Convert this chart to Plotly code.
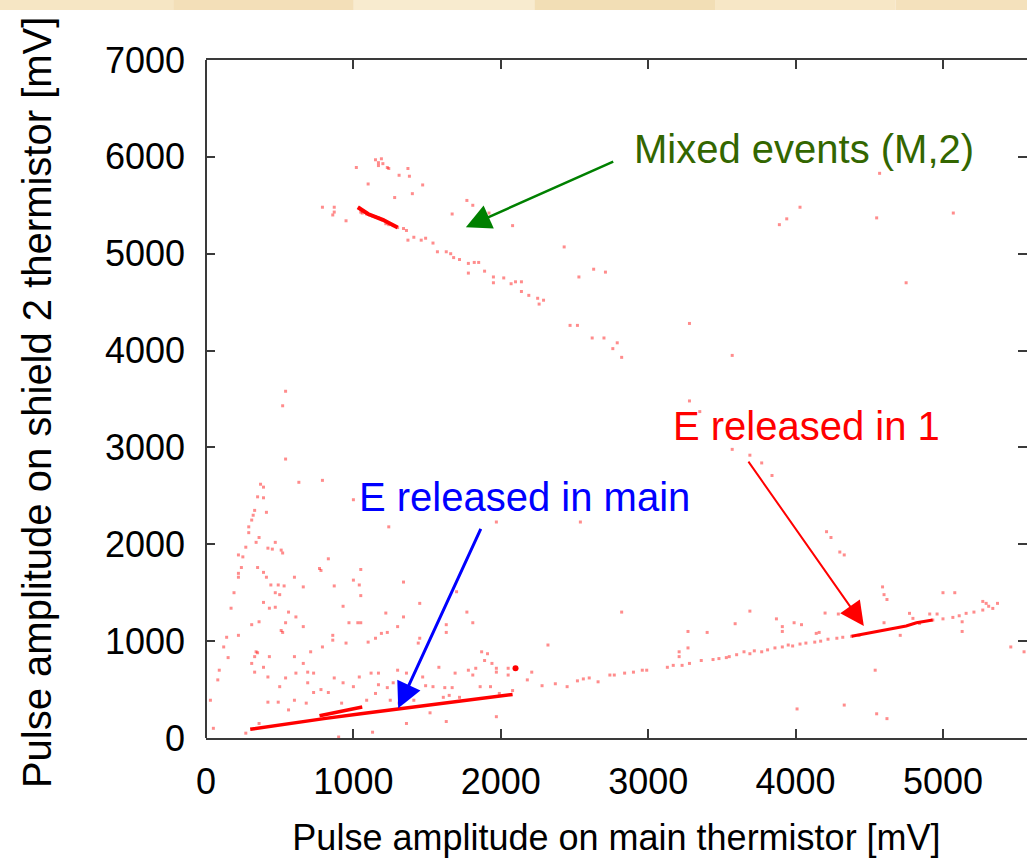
import plotly.graph_objects as go

# Tick values (mV)
x_ticks = [0, 1000, 2000, 3000, 4000, 5000]
y_ticks = [0, 1000, 2000, 3000, 4000, 5000, 6000, 7000]

# Low-energy events scattered above the main band
low_x = [370, 390, 630, 790, 350, 390, 330, 320, 310, 410, 290, 290, 340, 270, 360, 420, 450, 470, 510, 520,
         220, 250, 240, 220, 220, 350, 390, 410, 440, 490, 530, 470, 500, 600, 660, 770, 780, 830, 870, 1000,
         1050, 1040, 1050, 930, 390, 470, 430, 560, 610, 190, 170, 360, 310, 540, 520, 510, 660, 140, 120, 220,
         340, 350, 330, 310, 430, 600, 710, 860, 860, 790, 950, 1030, 1050, 970, 1100, 1150, 1190, 1230, 1220, 1340,
         1300, 1240, 1000, 1340, 150, 80, 30, 50, 90, 330, 390, 420, 500, 540, 610, 660, 690, 730, 690, 730,
         780, 830, 870, 930, 1000, 1040, 1120, 1170, 1170, 1150, 1230, 1300, 1360, 1270, 420, 490, 560, 600, 680, 360,
         270, 900, 920, 1090, 1250, 1310, 1410, 1440, 540, 1970, 2540, 1450, 1770, 1810, 2320, 2820, 1630, 1870, 1940, 2210,
         1970, 1130, 1360, 1630, 540, 520]
low_y = [2620, 2590, 2640, 2660, 2490, 2480, 2350, 2300, 2250, 2330, 2180, 2120, 2020, 1970, 2070, 1960, 1950, 2020, 1940, 1910,
         1890, 1870, 1760, 1700, 1660, 1760, 1710, 1660, 1580, 1580, 1570, 1500, 1480, 1660, 1560, 1750, 1730, 1850, 1570, 1630,
         1740, 1580, 1470, 1360, 1400, 1350, 1340, 1300, 1250, 1500, 1340, 1200, 1170, 1190, 1090, 1110, 1150, 1040, 940, 1060,
         890, 880, 840, 770, 840, 840, 890, 1060, 1010, 940, 980, 1190, 1190, 1190, 990, 1030, 1080, 1090, 1290, 1250,
         1150, 2180, 2460, 1610, 830, 600, 390, 100, 700, 680, 730, 630, 530, 620, 670, 770, 680, 670, 570, 470,
         500, 470, 620, 570, 530, 630, 670, 670, 550, 460, 520, 700, 670, 570, 370, 370, 290, 390, 360, 150,
         50, 10, 360, 390, 390, 360, 390, 980, 2880, 2230, 2230, 1390, 1300, 1190, 960, 1300, 1170, 890, 770, 680,
         220, 60, 150, 170, 3580, 3430]

# Events along the lower band (main thermistor + shield 1 crosstalk)
band_pts_x = [1700, 1630, 1450, 1910, 1890, 1970, 2050, 1780, 1830, 1970, 1580, 1690, 1810, 2050, 1470, 1490, 1540, 1620,
              1670, 1860, 1930, 1990, 2080, 2180, 2280, 2370, 2450, 2520, 2560, 2600, 2660, 2740, 2770, 2840, 2900, 2960,
              2990, 3130, 3170, 3230, 3280, 3210, 3270, 3270, 3210, 1520, 1610, 1650, 1720, 3400, 3590, 3690, 3870, 3910,
              3910, 3990, 4040, 4140, 4200, 4160, 4290, 4590, 4600, 4620, 5000, 5080, 5270, 5370, 4910, 4960, 5130, 5130,
              4710, 4600, 3360, 4540, 4330, 4010, 4550, 4620, 5460, 5550, 3440, 3480, 3530, 3550, 3600, 3650, 3690, 3720,
              3770, 3810, 3860, 3910, 3950, 3980, 4030, 4070, 4130, 4170, 4220, 4280, 4320, 4380, 4430, 4773, 4796, 4841,
              4931, 5000, 5067, 5110, 5157, 5210, 5270, 5293, 5338, 5310]
band_pts_y = [1510, 1090, 1030, 870, 800, 720, 720, 700, 720, 680, 730, 670, 650, 650, 630, 540, 530, 520,
              520, 530, 530, 460, 490, 600, 540, 560, 530, 590, 610, 620, 580, 650, 650, 670, 680, 700,
              700, 730, 750, 750, 770, 840, 930, 1100, 890, 260, 420, 440, 420, 1090, 1180, 1310, 1230, 1150,
              1100, 1190, 1170, 1080, 1290, 1090, 1280, 1560, 1480, 1430, 1500, 1500, 1410, 1390, 1280, 1280, 1200, 1100,
              1060, 1190, 800, 700, 340, 300, 250, 200, 940, 890, 810, 820, 830, 840, 860, 890, 870, 900,
              890, 910, 930, 940, 960, 950, 970, 980, 990, 1000, 1020, 1030, 1040, 1050, 1060, 1287, 1235, 1183,
              1218, 1230, 1245, 1262, 1287, 1300, 1321, 1390, 1338, 1360]

# Sparse events in the upper right part
upper_x = [4570, 4030, 3940, 3890, 4550, 5070, 4750, 3280, 3570, 3280, 3350, 3570, 3690, 3770, 3840, 4210, 4240, 4300, 4330]
upper_y = [5830, 5480, 5360, 5300, 5370, 5420, 4700, 4280, 3950, 3480, 3370, 2980, 2920, 2840, 2710, 2130, 2070, 1920, 1890]

# Mixed events (main + shield 2)
mixed_x = [1150, 1170, 1170, 1190, 1200, 1230, 1240, 1020, 1310, 1370, 1380, 1470, 1400, 1100, 1280, 1770, 1810, 1670,
           1920, 2080, 2430, 2530, 2630, 2710, 2470, 2520, 2620, 2700, 2790, 2760, 2820, 790, 870, 870, 860, 950,
           1040, 1050, 1060, 1090, 1110, 1130, 1150, 1170, 1200, 1220, 1240, 1270, 1300, 1340, 1360,
           1370, 1410, 1460, 1490, 1540, 1570, 1630, 1660, 1680, 1720, 1780, 1780, 1820, 1850, 1890, 1950, 1950,
           2020, 2070, 2100, 2140, 2140, 2190, 2250, 2260, 2290]
mixed_y = [5970, 5940, 5910, 5980, 5930, 5890, 5880, 5890, 5810, 5880, 5800, 5710, 5620, 5720, 5580, 5550, 5500, 5410,
           5420, 5290, 5070, 4760, 4840, 4810, 4260, 4260, 4130, 4130, 4080, 4020, 3930, 5480, 5480, 5430, 5400, 5340,
           5470, 5430, 5420, 5410, 5400, 5390, 5380, 5370, 5350, 5310, 5300, 5290, 5270, 5260, 5240,
           5140, 5170, 5140, 5160, 5110, 5020, 5020, 5000, 4960, 4940, 4900, 4800, 4910, 4910, 4820, 4760, 4700,
           4750, 4690, 4710, 4710, 4610, 4570, 4540, 4480, 4520]

# Densely populated ridges (centre lines)
ridge_main_x = [300, 560, 800, 1050, 1300, 1490, 1800, 2080]
ridge_main_y = [90, 150, 200, 250, 300, 340, 400, 450]
ridge_short_x = [770, 920, 1060]
ridge_short_y = [230, 275, 320]
ridge_right_x = [4380, 4480, 4615, 4750, 4820, 4930]
ridge_right_y = [1050, 1080, 1115, 1156, 1190, 1218]
ridge_mixed_x = [1030, 1100, 1200, 1300]
ridge_mixed_y = [5480, 5410, 5350, 5270]

# Isolated bright spot
spot_x = [2100]
spot_y = [720]

FONT = "Liberation Sans, Arial, sans-serif"
RED = "rgba(255,0,0,0.45)"

fig = go.Figure()

for xs, ys in [(low_x, low_y), (band_pts_x, band_pts_y), (upper_x, upper_y), (mixed_x, mixed_y)]:
    fig.add_trace(go.Scatter(x=xs, y=ys, mode="markers",
                             marker=dict(symbol="square", size=3, color=RED, line=dict(width=0)),
                             showlegend=False, hoverinfo="skip"))

for xs, ys, w in [(ridge_main_x, ridge_main_y, 3.5), (ridge_short_x, ridge_short_y, 3.5),
                  (ridge_right_x, ridge_right_y, 3), (ridge_mixed_x, ridge_mixed_y, 4)]:
    fig.add_trace(go.Scatter(x=xs, y=ys, mode="lines", line=dict(color="rgb(255,0,0)", width=w),
                             showlegend=False, hoverinfo="skip"))

fig.add_trace(go.Scatter(x=spot_x, y=spot_y, mode="markers",
                         marker=dict(symbol="circle", size=6, color="rgb(255,0,0)"),
                         showlegend=False, hoverinfo="skip"))

# Labels and arrows
labels = [
    dict(text="Mixed events (M,2)", x=2888, y=6083, color="rgb(51,102,0)"),
    dict(text="E released in 1", x=3153, y=3220, color="rgb(255,0,0)"),
    dict(text="E released in main", x=1024, y=2487, color="rgb(0,0,255)"),
]
for lb in labels:
    fig.add_annotation(x=lb["x"], y=lb["y"], xref="x", yref="y", text=lb["text"], showarrow=False,
                       xanchor="left", yanchor="middle",
                       font=dict(family=FONT, size=40, color=lb["color"]))

arrows = [
    dict(x=1763, y=5274, ax=2773, ay=5958, color="rgb(0,128,0)", w=2.5, s=2.0),
    dict(x=4463, y=1156, ax=3673, ay=2869, color="rgb(255,0,0)", w=2, s=2.4),
    dict(x=1304, y=306, ax=1869, ay=2174, color="rgb(0,0,255)", w=3, s=1.7),
]
for ar in arrows:
    fig.add_annotation(x=ar["x"], y=ar["y"], ax=ar["ax"], ay=ar["ay"], xref="x", yref="y",
                       axref="x", ayref="y", text="", showarrow=True, arrowhead=2,
                       arrowsize=ar["s"], arrowwidth=ar["w"], arrowcolor=ar["color"])

# Vertical axis title
fig.add_annotation(xref="paper", yref="paper", x=-0.205, y=0.495, xanchor="center", yanchor="middle",
                   text="Pulse amplitude on shield 2 thermistor [mV]", textangle=-90, showarrow=False,
                   font=dict(family=FONT, size=40, color="black"))

# Left border of the frame
fig.add_shape(type="line", xref="paper", yref="paper", x0=0, x1=0, y0=0, y1=1,
              line=dict(color="#3a3a3a", width=2))

# Parchment strip along the top edge
strip = ["#f6e6c4", "#f3dfb8", "#f8ebcf", "#f2deb5", "#f7e7c6", "#f4e1bc"]
for i, c in enumerate(strip):
    fig.add_shape(type="rect", xref="paper", yref="paper", ysizemode="pixel", yanchor=1,
                  x0=-0.26 + i * 0.22, x1=-0.26 + (i + 1) * 0.22, y0=50, y1=80,
                  fillcolor=c, line=dict(width=0), layer="below")

axis_common = dict(ticks="inside", ticklen=9, tickwidth=2, tickcolor="#3a3a3a",
                   tickfont=dict(family=FONT, size=36, color="black"),
                   showgrid=False, zeroline=False)

fig.update_layout(
    width=1027, height=858,
    margin=dict(l=206, r=0, t=60, b=120),
    paper_bgcolor="white", plot_bgcolor="white",
    xaxis=dict(range=[0, 5570], tickvals=x_ticks, showline=True, linecolor="#3a3a3a", linewidth=2,
               mirror="ticks", ticklabelstandoff=11,
               title=dict(text="Pulse amplitude on main thermistor [mV]",
                          font=dict(family=FONT, size=36, color="black"), standoff=24),
               **axis_common),
    yaxis=dict(range=[0, 7000], tickvals=y_ticks, showline=False, mirror="ticks", ticklabelstandoff=20,
               **axis_common),
)

fig.write_html("out.html")
